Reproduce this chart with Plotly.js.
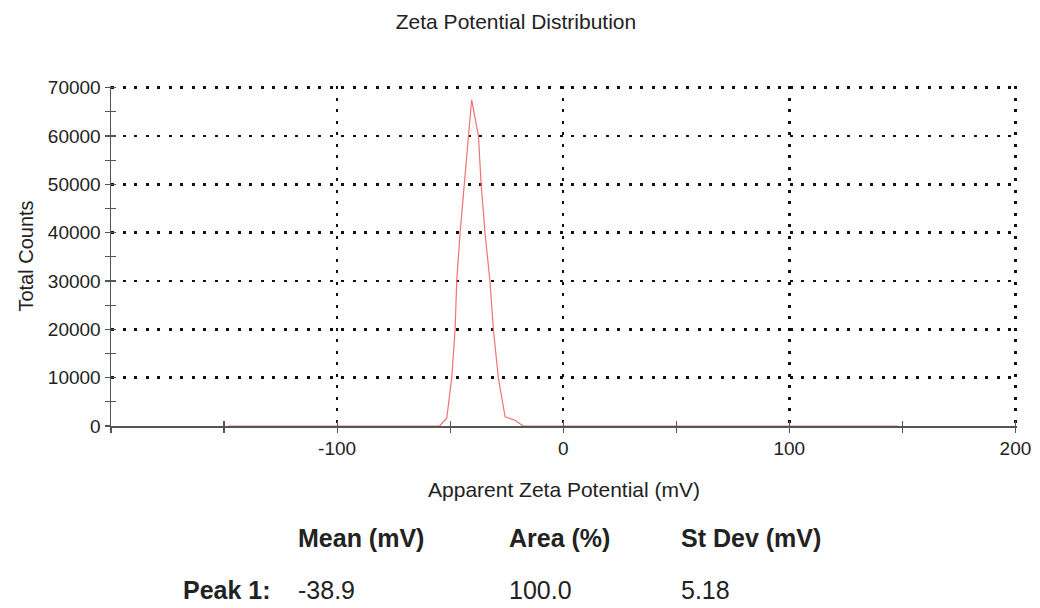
<!DOCTYPE html>
<html>
<head>
<meta charset="utf-8">
<script src="https://cdn.plot.ly/plotly-3.0.1.min.js"></script>
<style>
  html, body { margin: 0; padding: 0; background: #fff; }
  #chart { width: 1040px; height: 608px; }
</style>
</head>
<body>
<div id="chart"></div>
<script>
// Zeta potential distribution (apparent zeta potential in mV vs total counts)
const zetaMv = [-148, -54.7, -51.5, -49.3, -47.8, -47.1, -45.6, -43.7, -41.9, -40.5,
                -37.5, -36.3, -34.6, -32.4, -30.9, -28.7, -25.7, -21.3, -17.7, 148];
const totalCounts = [0, 0, 1600, 10000, 20000, 30000, 40000, 50000, 60000, 67500,
                     60000, 50000, 40000, 30000, 20000, 10000, 1900, 1200, 0, 0];

// Axis tick labels
const xTickVals = [-100, 0, 100, 200];
const xTickText = ['-100', '0', '100', '200'];
const yTickVals = [0, 10000, 20000, 30000, 40000, 50000, 60000, 70000];
const yTickText = ['0', '10000', '20000', '30000', '40000', '50000', '60000', '70000'];

// Peak summary table
const tableHeaders = ['Mean (mV)', 'Area (%)', 'St Dev (mV)'];
const peakNames = ['Peak 1:'];
const peakMean = ['-38.9'];
const peakArea = ['100.0'];
const peakStDev = ['5.18'];

const FONT = 'Liberation Sans, Arial, sans-serif';
const TEXT = '#222';
const AXIS = '#555';
const dots = '3px,8.5px';

// ranges padded a hair past the last grid values so their dotted lines are kept
const xRange = [-200, 200.7];
const yRange = [0, 70330];

const traces = [
  {
    x: zetaMv, y: totalCounts, type: 'scatter', mode: 'lines',
    line: { color: '#f07272', width: 1.2 },
    hoverinfo: 'x+y', showlegend: false
  },
  // empty trace so the overlay axes (inner half of the crossing ticks) are drawn
  { x: [], y: [], xaxis: 'x2', yaxis: 'y2', type: 'scatter', showlegend: false }
];

// table annotations
const colX = [296, 507, 679];
const tableFont = { family: FONT, size: 25, color: TEXT };
const annotations = [];
tableHeaders.forEach((h, i) => annotations.push({
  text: '<b>' + h + '</b>', xref: 'paper', yref: 'paper',
  x: (colX[i] - 111) / 906, y: -(538 - 426) / 340, xanchor: 'left', yanchor: 'middle',
  showarrow: false, font: tableFont
}));
peakNames.forEach((p, r) => {
  annotations.push({
    text: '<b>' + p + '</b>', xref: 'paper', yref: 'paper',
    x: (273 - 111) / 906, y: -(590 - 426) / 340, xanchor: 'right', yanchor: 'middle',
    showarrow: false, font: tableFont
  });
  [peakMean[r], peakArea[r], peakStDev[r]].forEach((v, i) => annotations.push({
    text: v, xref: 'paper', yref: 'paper',
    x: (colX[i] - 111) / 906, y: -(590 - 426) / 340, xanchor: 'left', yanchor: 'middle',
    showarrow: false, font: tableFont
  }));
});

const layout = {
  width: 1040, height: 608,
  paper_bgcolor: '#fff', plot_bgcolor: '#fff',
  margin: { l: 111, r: 23, t: 86, b: 182 },
  font: { family: FONT, color: TEXT },
  title: {
    text: 'Zeta Potential Distribution',
    font: { family: FONT, size: 21, color: TEXT },
    xref: 'paper', x: (516 - 111) / 906, xanchor: 'center',
    yref: 'container', y: 1 - 22 / 608, yanchor: 'middle'
  },
  xaxis: {
    range: xRange, tickmode: 'array', tickvals: xTickVals, ticktext: xTickText,
    showline: true, linecolor: AXIS, linewidth: 1.5, layer: 'below traces',
    ticks: 'outside', ticklen: 5, tickcolor: AXIS, tickwidth: 1.2,
    minor: { tickmode: 'linear', dtick: 50, tick0: 0, ticks: 'outside', ticklen: 5, tickcolor: AXIS, tickwidth: 1.2, showgrid: false },
    showgrid: true, gridcolor: '#111', gridwidth: 2.5, griddash: dots,
    zeroline: false,
    tickfont: { family: FONT, size: 19, color: TEXT },
    title: { text: 'Apparent Zeta Potential (mV)', font: { family: FONT, size: 21, color: TEXT }, standoff: 24 }
  },
  yaxis: {
    range: yRange, tickmode: 'array', tickvals: yTickVals, ticktext: yTickText,
    showline: true, linecolor: AXIS, linewidth: 1.5, layer: 'below traces',
    ticks: 'outside', ticklen: 5, tickcolor: AXIS, tickwidth: 1.2,
    minor: { tickmode: 'linear', dtick: 5000, tick0: 0, ticks: 'outside', ticklen: 5, tickcolor: AXIS, tickwidth: 1.2, showgrid: false },
    showgrid: true, gridcolor: '#111', gridwidth: 2.5, griddash: dots,
    zeroline: false,
    tickfont: { family: FONT, size: 19, color: TEXT },
    title: { text: 'Total Counts', font: { family: FONT, size: 20, color: TEXT }, standoff: 9 }
  },
  xaxis2: {
    overlaying: 'x', range: xRange, dtick: 50, tick0: 0,
    ticks: 'inside', ticklen: 5, tickcolor: AXIS, tickwidth: 1.2,
    showticklabels: false, showgrid: false, zeroline: false, showline: false
  },
  yaxis2: {
    overlaying: 'y', range: yRange, dtick: 5000, tick0: 0,
    ticks: 'inside', ticklen: 5, tickcolor: AXIS, tickwidth: 1.2,
    showticklabels: false, showgrid: false, zeroline: false, showline: false
  },
  annotations: annotations,
  showlegend: false
};

Plotly.newPlot('chart', traces, layout, { displayModeBar: false, staticPlot: true });
</script>
</body>
</html>
